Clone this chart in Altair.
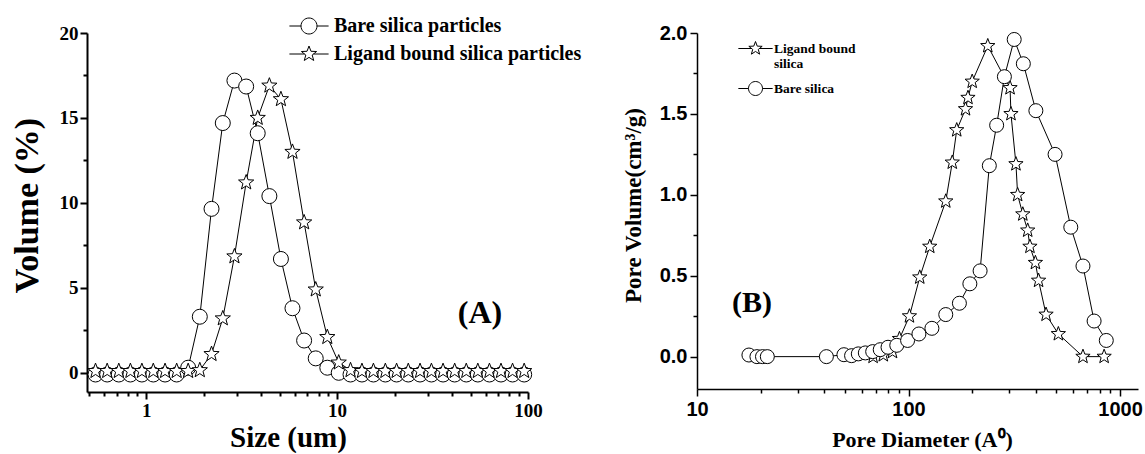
import altair as alt
import pandas as pd

# ---------------- Panel (A): particle size distribution ----------------
size_um = [0.543, 0.625, 0.719, 0.827, 0.95, 1.09, 1.256, 1.445, 1.66, 1.91,
           2.2, 2.52, 2.9, 3.34, 3.84, 4.42, 5.08, 5.84, 6.72, 7.73,
           8.89, 10.2, 11.76, 13.5, 15.5, 17.9, 20.5, 23.6, 27.2, 31.2,
           35.9, 41.3, 47.5, 54.6, 62.8, 72.2, 83.0, 95.5]
bare_volume = [-0.1, -0.1, -0.1, -0.1, -0.1, -0.1, -0.1, -0.1, 0.3, 3.3,
               9.65, 14.7, 17.2, 16.85, 14.1, 10.4, 6.7, 3.8, 1.9, 0.85,
               0.3, 0.0, -0.1, -0.1, -0.1, -0.1, -0.1, -0.1, -0.1, -0.1,
               -0.1, -0.1, -0.1, -0.1, -0.1, -0.1, -0.1, -0.1]
ligand_volume = [0.1, 0.1, 0.1, 0.1, 0.1, 0.1, 0.1, 0.1, 0.1, 0.15,
                 1.1, 3.2, 6.85, 11.2, 15.0, 16.9, 16.1, 13.0, 8.85, 4.9,
                 2.1, 0.6, 0.15, 0.1, 0.1, 0.1, 0.1, 0.1, 0.1, 0.1,
                 0.1, 0.1, 0.1, 0.1, 0.1, 0.1, 0.1, 0.1]
left_series = ["Bare silica particles", "Ligand bound silica particles"]
left_x_ticks = [0.5, 0.6, 0.7, 0.8, 0.9, 1, 2, 3, 4, 5, 6, 7, 8, 9,
                10, 20, 30, 40, 50, 60, 70, 80, 90, 100]
left_y_ticks = [0, 2.5, 5, 7.5, 10, 12.5, 15, 17.5, 20]
label_a = ["(A)"]
label_a_x = [56]
label_a_y = [3.5]

# ---------------- Panel (B): pore size distribution ----------------
pore_d_bare = [17.6, 19.2, 20.4, 21.5, 40.9, 49.5, 53.8, 57.9, 62.5, 67.7,
               73.5, 80, 88, 99, 112, 129, 150, 174, 195, 218,
               241, 261, 284, 316, 349, 400, 493, 585, 668, 754, 861]
pore_vol_bare = [0.01, 0.0, 0.0, 0.0, 0.0, 0.012, 0.006, 0.017, 0.023, 0.031,
                 0.043, 0.058, 0.07, 0.1, 0.14, 0.175, 0.26, 0.33, 0.45, 0.53,
                 1.18, 1.43, 1.73, 1.96, 1.81, 1.52, 1.25, 0.80, 0.56, 0.22, 0.10]
pore_d_ligand = [68, 76, 84, 90.6, 101, 113, 126, 150, 161, 169,
                 186, 191, 200, 237, 302, 305, 322, 328, 347, 366,
                 375, 398, 412, 447, 511, 668, 841]
pore_vol_ligand = [0.0, 0.01, 0.03, 0.11, 0.25, 0.49, 0.68, 0.96, 1.2, 1.4,
                   1.53, 1.6, 1.7, 1.92, 1.66, 1.5, 1.19, 1.0, 0.88, 0.78,
                   0.68, 0.58, 0.47, 0.26, 0.14, 0.0, 0.0]
right_series = ["Ligand bound silica", "Bare silica"]
right_x_ticks = [10, 20, 30, 40, 50, 60, 70, 80, 90, 100,
                 200, 300, 400, 500, 600, 700, 800, 900, 1000]
right_y_ticks = [0, 0.25, 0.5, 0.75, 1.0, 1.25, 1.5, 1.75, 2.0]
label_b = ["(B)"]
label_b_x = [18.2]
label_b_y = [0.334]

# ---------------- marker shapes ----------------
STAR = ("M0,-1L0.247,-0.34L0.951,-0.309L0.399,0.13L0.588,0.809L0,0.42"
        "L-0.588,0.809L-0.399,0.13L-0.951,-0.309L-0.247,-0.34Z")
CIRCLE_LEG = "M-2.45,0L-1,0M1,0L2.45,0M1,0A1,1,0,1,1,-1,0A1,1,0,1,1,1,0Z"
STAR_LEG = "M-2.45,0L-0.56,0M0.56,0L2.45,0" + STAR

SERIF = "Liberation Serif"
SANS = "Liberation Sans"

LOG_MAJOR = "abs(log(datum.value)/LN10 - round(log(datum.value)/LN10)) < 0.001"

# ================= Panel (A) =================
df_a = pd.DataFrame({
    "size": size_um + size_um,
    "volume": bare_volume + ligand_volume,
    "series": [left_series[0]] * len(size_um) + [left_series[1]] * len(size_um),
})
df_a_label = pd.DataFrame({"size": label_a_x, "volume": label_a_y, "t": label_a})

xa = alt.X("size:Q",
           scale=alt.Scale(type="log", domain=[0.49, 100], nice=False),
           axis=alt.Axis(title="Size (um)", values=left_x_ticks,
                         labelExpr=f"({LOG_MAJOR}) ? format(datum.value, 'd') : ''",
                         tickSize={"condition": {"test": LOG_MAJOR, "value": 7}, "value": 4},
                         labelFont=SERIF, labelFontSize=19, labelFontWeight="bold",
                         labelColor="black", labelPadding=2, labelOverlap=False,
                         labelFlush=False, titleFont=SERIF, titleFontSize=29,
                         titleFontWeight="bold", titleColor="black",
                         titleX=201, titleY=45.5, titleBaseline="middle", titleAlign="center",
                         domainColor="black", domainWidth=2, tickColor="black",
                         tickWidth=2, grid=False))
ya = alt.Y("volume:Q",
           scale=alt.Scale(domain=[-1.13, 20], nice=False, zero=False),
           axis=alt.Axis(title="Volume (%)", values=left_y_ticks,
                         labelExpr="datum.value % 5 == 0 ? format(datum.value, 'd') : ''",
                         tickSize={"condition": {"test": "datum.value % 5 == 0", "value": 7}, "value": 4},
                         labelFont=SERIF, labelFontSize=19, labelFontWeight="bold",
                         labelColor="black", labelPadding=2, labelOverlap=False,
                         labelFlush=False, titleFont=SERIF, titleFontSize=34,
                         titleFontWeight="bold", titleColor="black",
                         titleX=-60, titleY=172, titleBaseline="middle", titleAlign="center",
                         titleAngle=270,
                         domainColor="black", domainWidth=2, tickColor="black",
                         tickWidth=2, grid=False))

base_a = alt.Chart(df_a)
lines_a = base_a.mark_line(color="black", strokeWidth=1).encode(x=xa, y=ya, detail="series:N")
pts_a_bare = base_a.transform_filter(alt.datum.series == left_series[0]).mark_point(
    shape="circle", filled=True, fill="white", stroke="black", strokeWidth=1,
    size=225, opacity=1).encode(x=xa, y=ya)
pts_a_lig = base_a.transform_filter(alt.datum.series == left_series[1]).mark_point(
    shape=STAR, filled=True, fill="white", stroke="black", strokeWidth=1,
    size=256, opacity=1).encode(x=xa, y=ya)
legend_a = base_a.transform_filter("false").mark_point(
    filled=False, stroke="black", strokeWidth=1, opacity=1).encode(
    shape=alt.Shape("series:N",
                    scale=alt.Scale(domain=left_series, range=[CIRCLE_LEG, STAR_LEG]),
                    legend=alt.Legend(title=None, orient="none", legendX=201, legendY=-17,
                                      padding=0, symbolSize=256, symbolStrokeWidth=1,
                                      symbolStrokeColor="black", symbolOpacity=1,
                                      symbolOffset=11, labelOffset=15, rowPadding=8,
                                      labelFont=SERIF, labelFontSize=20,
                                      labelFontWeight="bold", labelColor="black",
                                      labelLimit=400)))
text_a = alt.Chart(df_a_label).mark_text(
    font=SERIF, fontSize=32, fontWeight="bold", color="black").encode(x=xa, y=ya, text="t:N")

panel_a = alt.layer(lines_a, pts_a_bare, pts_a_lig, legend_a, text_a).properties(
    width=441, height=359)

# ================= Panel (B) =================
df_b = pd.DataFrame({
    "diam": pore_d_ligand + pore_d_bare,
    "pv": pore_vol_ligand + pore_vol_bare,
    "series": [right_series[0]] * len(pore_d_ligand) + [right_series[1]] * len(pore_d_bare),
})
df_b_label = pd.DataFrame({"diam": label_b_x, "pv": label_b_y, "t": label_b})

HALF = "abs(datum.value*2 - round(datum.value*2)) < 0.001"
xb = alt.X("diam:Q",
           scale=alt.Scale(type="log", domain=[10, 1216], nice=False),
           axis=alt.Axis(title="Pore Diameter (A\u2070)", values=right_x_ticks,
                         labelExpr=f"({LOG_MAJOR}) ? format(datum.value, 'd') : ''",
                         tickSize={"condition": {"test": LOG_MAJOR, "value": 7}, "value": 4},
                         labelFont=SANS, labelFontSize=20, labelFontWeight="bold",
                         labelColor="black", labelPadding=3, labelOverlap=False,
                         labelFlush=False, titleFont=SERIF, titleFontSize=22,
                         titleFontWeight="bold", titleColor="black",
                         titleX=225, titleY=50, titleBaseline="middle", titleAlign="center",
                         domainColor="black", domainWidth=1.5, tickColor="black",
                         tickWidth=1.5, grid=False))
yb = alt.Y("pv:Q",
           scale=alt.Scale(domain=[-0.2, 2.0], nice=False, zero=False),
           axis=alt.Axis(title="Pore Volume(cm\u00b3/g)", values=right_y_ticks,
                         labelExpr=f"({HALF}) ? format(datum.value, '.1f') : ''",
                         tickSize={"condition": {"test": HALF, "value": 7}, "value": 4},
                         labelFont=SANS, labelFontSize=20, labelFontWeight="bold",
                         labelColor="black", labelPadding=3, labelOverlap=False,
                         labelFlush=False, titleFont=SERIF, titleFontSize=23,
                         titleFontWeight="bold", titleColor="black",
                         titleX=-64, titleY=172, titleBaseline="middle", titleAlign="center",
                         titleAngle=270,
                         domainColor="black", domainWidth=1.5, tickColor="black",
                         tickWidth=1.5, grid=False))

base_b = alt.Chart(df_b)
lines_b = base_b.mark_line(color="black", strokeWidth=1).encode(x=xb, y=yb, detail="series:N")
pts_b_lig = base_b.transform_filter(alt.datum.series == right_series[0]).mark_point(
    shape=STAR, filled=True, fill="white", stroke="black", strokeWidth=1,
    size=225, opacity=1).encode(x=xb, y=yb)
pts_b_bare = base_b.transform_filter(alt.datum.series == right_series[1]).mark_point(
    shape="circle", filled=True, fill="white", stroke="black", strokeWidth=1,
    size=196, opacity=1).encode(x=xb, y=yb)
legend_b = base_b.transform_filter("false").mark_point(
    filled=False, stroke="black", strokeWidth=1, opacity=1).encode(
    shape=alt.Shape("series:N",
                    scale=alt.Scale(domain=right_series, range=[STAR_LEG, CIRCLE_LEG]),
                    legend=alt.Legend(title=None, orient="none", legendX=38, legendY=8,
                                      padding=0, symbolSize=196, symbolStrokeWidth=1,
                                      symbolStrokeColor="black", symbolOpacity=1,
                                      symbolOffset=13, labelOffset=11, rowPadding=8,
                                      labelFont=SERIF, labelFontSize=13.5,
                                      labelFontWeight="bold", labelColor="black",
                                      labelLimit=300,
                                      labelExpr="datum.label == 'Ligand bound silica' ? ['Ligand bound', 'silica'] : datum.label")))
text_b = alt.Chart(df_b_label).mark_text(
    font=SERIF, fontSize=30, fontWeight="bold", color="black").encode(x=xb, y=yb, text="t:N")

panel_b = alt.layer(lines_b, pts_b_lig, pts_b_bare, legend_b, text_b).properties(
    width=441, height=356)

chart = alt.hconcat(panel_a, panel_b, spacing=169, bounds="flush").resolve_scale(
    shape="independent"
).properties(
    padding={"left": 10, "top": 16, "right": 0, "bottom": 0},
    background="white",
).configure_view(strokeWidth=0)

chart.save("out.html", embed_options={"renderer": "svg", "actions": False})
